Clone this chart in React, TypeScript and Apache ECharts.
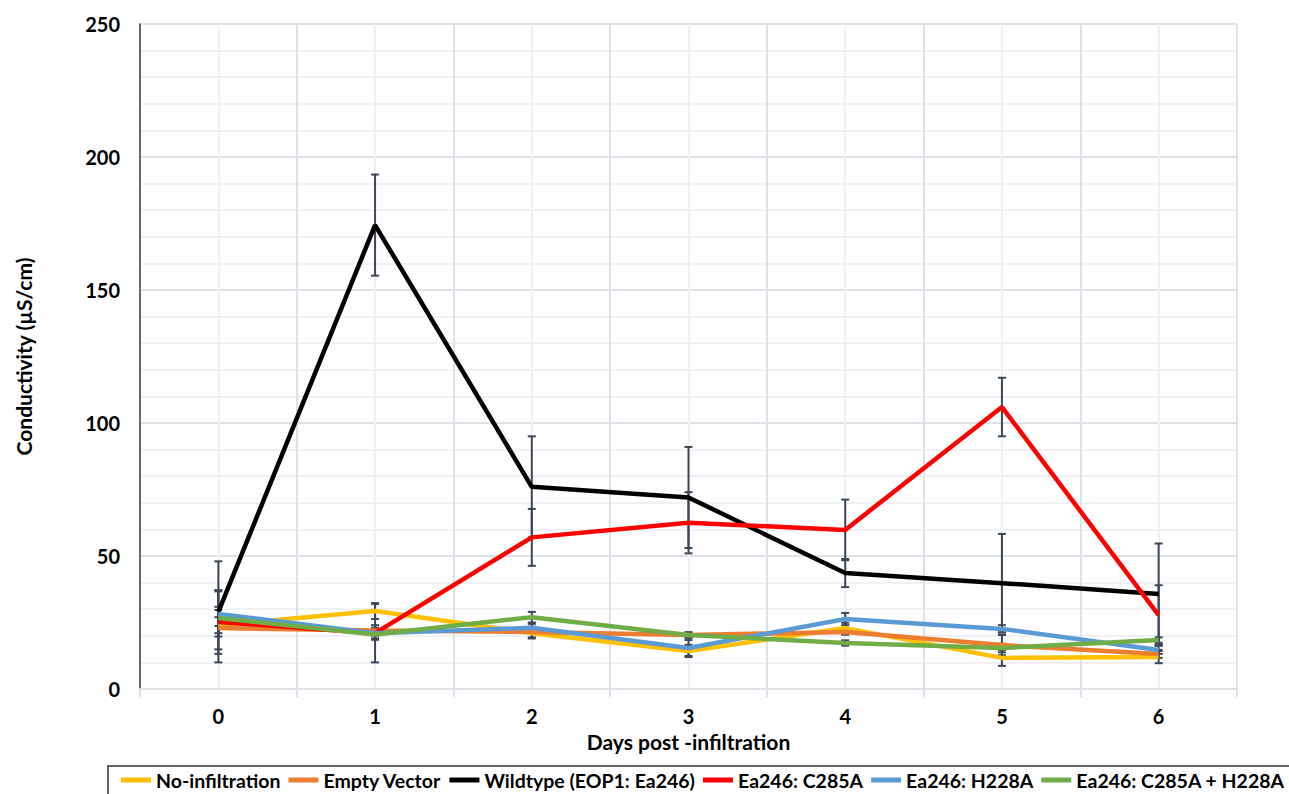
import React, { useEffect, useRef } from "react";
import * as echarts from "echarts";

const days = ["0", "1", "2", "3", "4", "5", "6"];
const seriesNames = [
  "No-infiltration",
  "Empty Vector",
  "Wildtype (EOP1: Ea246)",
  "Ea246: C285A",
  "Ea246: H228A",
  "Ea246: C285A + H228A",
];
const seriesColors = ["#FFC000", "#ED7D31", "#000000", "#FF0000", "#5B9BD5", "#70AD47"];

const noInfiltration = [24, 29.3, 21, 14.3, 22.9, 11.7, 12];
const emptyVector = [22.9, 22, 21.4, 20.3, 21.4, 16.5, 13.2];
const wildtype = [29, 174.4, 76, 72, 43.6, 39.8, 35.7];
const c285a = [25.2, 21, 57, 62.5, 59.8, 106, 27.8];
const h228a = [28.2, 21, 23, 15.4, 26.3, 22.6, 14.7];
const c285aH228a = [26.7, 20.5, 27, 20.3, 17.3, 15.4, 18.4];

const noInfiltrationErr = [3, 3, 2, 2.3, 2, 3, 2.3];
const emptyVectorErr = [8, 2, 2, 1, 1, 3.8, 1.5];
const wildtypeErr = [19, 19, 19, 19, 5.3, 18.5, 19];
const c285aErr = [12, 11, 10.7, 11.5, 11.4, 11, 11.2];
const h228aErr = [8.5, 2, 1.5, 3, 2.3, 1.4, 1.5];
const c285aH228aErr = [3, 2, 2, 1, 1, 1.6, 1];

const yTicks = { min: 0, max: 250, interval: 50 };

const allValues = [noInfiltration, emptyVector, wildtype, c285a, h228a, c285aH228a];
const allErrors = [noInfiltrationErr, emptyVectorErr, wildtypeErr, c285aErr, h228aErr, c285aH228aErr];

const FONT = "Lato";

export default function App() {
  const ref = useRef<HTMLDivElement>(null);
  useEffect(() => {
    document.body.style.margin = "0";
    const chart = echarts.init(ref.current!, undefined, { renderer: "svg" });

    const errData: number[][] = [];
    allValues.forEach((vals, s) => {
      vals.forEach((v, i) => {
        errData.push([i, v - allErrors[s][i], v + allErrors[s][i]]);
      });
    });

    const lineSeries = seriesNames.map((name, s) => ({
      name,
      type: "line",
      data: allValues[s],
      xAxisIndex: 0,
      yAxisIndex: 0,
      symbol: "none",
      color: seriesColors[s],
      lineStyle: { color: seriesColors[s], width: 4.5 },
      z: 3 + s,
    }));

    const option: any = {
      animation: false,
      textStyle: { fontFamily: FONT },
      grid: { left: 140, top: 24, right: 52, bottom: 105, containLabel: false },
      legend: {
        data: seriesNames,
        left: 121,
        top: 770,
        width: 1400,
        icon: "rect",
        itemWidth: 30,
        itemHeight: 5,
        itemGap: 8,
        padding: 0,
        textStyle: { fontFamily: FONT, fontWeight: "bold", fontSize: 19.5, color: "#000" },
      },
      graphic: [
        {
          type: "rect",
          shape: { x: 108, y: 766, width: 1200, height: 60 },
          style: { fill: "none", stroke: "#333", lineWidth: 1.5 },
          silent: true,
        },
      ],
      xAxis: [
        {
          type: "category",
          data: days,
          boundaryGap: true,
          position: "bottom",
          axisLine: { show: true, lineStyle: { color: "#dde1e8", width: 2 } },
          axisTick: { show: true, alignWithLabel: false, length: 8, lineStyle: { color: "#dde1e8", width: 2 } },
          axisLabel: { margin: 17, fontFamily: FONT, fontWeight: "bold", fontSize: 20, color: "#000" },
          splitLine: { show: true, interval: 0, lineStyle: { color: "#dde1e8", width: 2 } },
          name: "Days post -infiltration",
          nameLocation: "middle",
          nameGap: 42,
          nameTextStyle: { fontFamily: FONT, fontWeight: "bold", fontSize: 21, color: "#000" },
        },
        {
          type: "value",
          min: -0.5,
          max: 6.5,
          interval: 0.5,
          position: "top",
          axisLine: { show: false, onZero: false },
          axisTick: { show: false },
          axisLabel: { show: false },
          splitLine: { show: true, lineStyle: { color: ["rgba(0,0,0,0)", "#eff1f4"], width: 2 } },
        },
      ],
      yAxis: {
        type: "value",
        min: yTicks.min,
        max: yTicks.max,
        interval: yTicks.interval,
        axisLine: { show: true, onZero: false, lineStyle: { color: "#404040", width: 1.5 } },
        axisTick: { show: false },
        minorTick: { show: false, splitNumber: 5 },
        minorSplitLine: { show: true, lineStyle: { color: "#eff1f4", width: 2 } },
        splitLine: { show: true, lineStyle: { color: "#dde1e8", width: 2 } },
        axisLabel: { margin: 20, fontFamily: FONT, fontWeight: "bold", fontSize: 20, color: "#000" },
        name: "Conductivity (µS/cm)",
        nameLocation: "middle",
        nameGap: 106,
        nameRotate: 90,
        nameTextStyle: { fontFamily: FONT, fontWeight: "bold", fontSize: 21, color: "#000" },
      },
      series: [
        {
          type: "custom",
          name: "errorbars",
          xAxisIndex: 0,
          yAxisIndex: 0,
          z: 2,
          silent: true,
          data: errData,
          renderItem: (params: any, api: any) => {
            const x = api.value(0);
            const lo = api.coord([x, api.value(1)]);
            const hi = api.coord([x, api.value(2)]);
            const cw = 4;
            const st = { stroke: "#3b4759", lineWidth: 2 };
            return {
              type: "group",
              children: [
                { type: "line", shape: { x1: hi[0], y1: hi[1], x2: lo[0], y2: lo[1] }, style: st },
                { type: "line", shape: { x1: hi[0] - cw, y1: hi[1], x2: hi[0] + cw, y2: hi[1] }, style: st },
                { type: "line", shape: { x1: lo[0] - cw, y1: lo[1], x2: lo[0] + cw, y2: lo[1] }, style: st },
              ],
            };
          },
        },
        ...lineSeries,
      ],
    };
    chart.setOption(option);
    return () => chart.dispose();
  }, []);
  return <div ref={ref} style={{ width: 1289, height: 794 }} />;
}
